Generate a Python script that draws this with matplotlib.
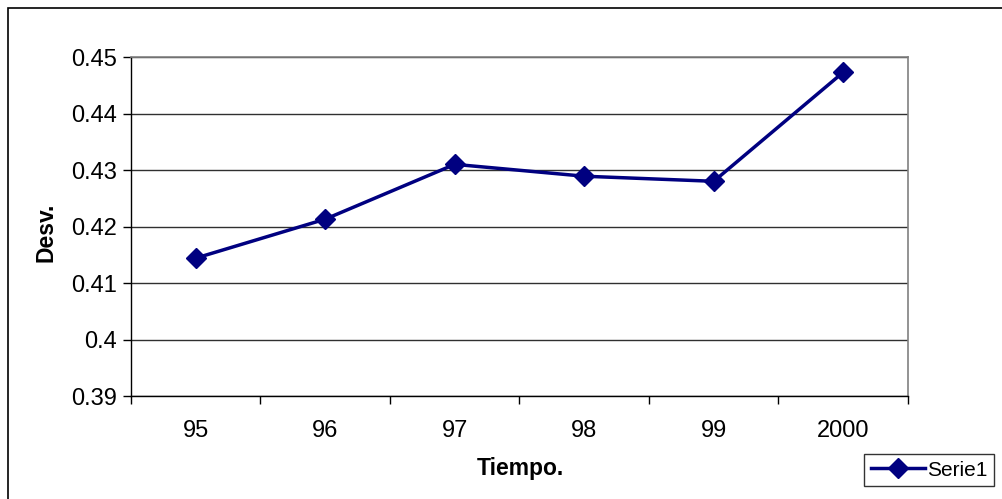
import matplotlib.pyplot as plt
from matplotlib.patches import Rectangle

years = ['95', '96', '97', '98', '99', '2000']
desv = [0.4144, 0.4213, 0.4310, 0.4289, 0.4280, 0.4473]
yticks = [0.39, 0.40, 0.41, 0.42, 0.43, 0.44, 0.45]
ytick_labels = ['0.39', '0.4', '0.41', '0.42', '0.43', '0.44', '0.45']

plt.rcParams['font.family'] = ['Liberation Sans', 'DejaVu Sans']

fig = plt.figure(figsize=(10.03, 4.99), dpi=100)
ax = fig.add_axes([131 / 1003, 1 - 396 / 499, 777 / 1003, 339 / 499])

# outer chart border (only left and top visible in the crop)
fig.patches.append(Rectangle((8.5 / 1003, -0.5), 2, 1 - 8.5 / 499 + 0.5,
                             transform=fig.transFigure, fill=False,
                             edgecolor='black', linewidth=1.2))

x = list(range(len(years)))
ax.plot(x, desv, color='#000080', linewidth=2.5, marker='D', markersize=10,
        label='Serie1', zorder=3)

ax.set_xlim(-0.5, len(years) - 0.5)
ax.set_ylim(0.39, 0.45)
ax.set_yticks(yticks)
ax.set_yticklabels(ytick_labels)
ax.set_xticks(x)
ax.set_xticklabels(years)
ax.set_xticks([i - 0.5 for i in range(len(years) + 1)], minor=True)
ax.tick_params(axis='x', which='major', length=0, labelsize=17, pad=17)
ax.tick_params(axis='x', which='minor', length=6, width=1, direction='out')
ax.tick_params(axis='y', length=6, width=1, direction='out', labelsize=17, pad=4)

ax.grid(axis='y', color='#303030', linewidth=1)
ax.set_axisbelow(True)
for side in ['top', 'right']:
    ax.spines[side].set_color('#808080')
    ax.spines[side].set_linewidth(1.2)
for side in ['left', 'bottom']:
    ax.spines[side].set_color('black')
    ax.spines[side].set_linewidth(1)

fig.text(520 / 1003, 1 - 468 / 499, 'Tiempo.', fontsize=16.5, fontweight='bold',
         ha='center', va='center')
fig.text(46 / 1003, 1 - 232 / 499, 'Desv.', fontsize=16.5, fontweight='bold',
         ha='center', va='center', rotation=90)

leg = ax.legend(loc='center', bbox_to_anchor=(929 / 1003, 1 - 470 / 499),
                bbox_transform=fig.transFigure, fontsize=15, frameon=True,
                fancybox=False, edgecolor='black', borderpad=0.3,
                handlelength=2.6, handletextpad=0.1, borderaxespad=0)
leg.get_frame().set_linewidth(1)

plt.savefig('out.png', dpi=100)
